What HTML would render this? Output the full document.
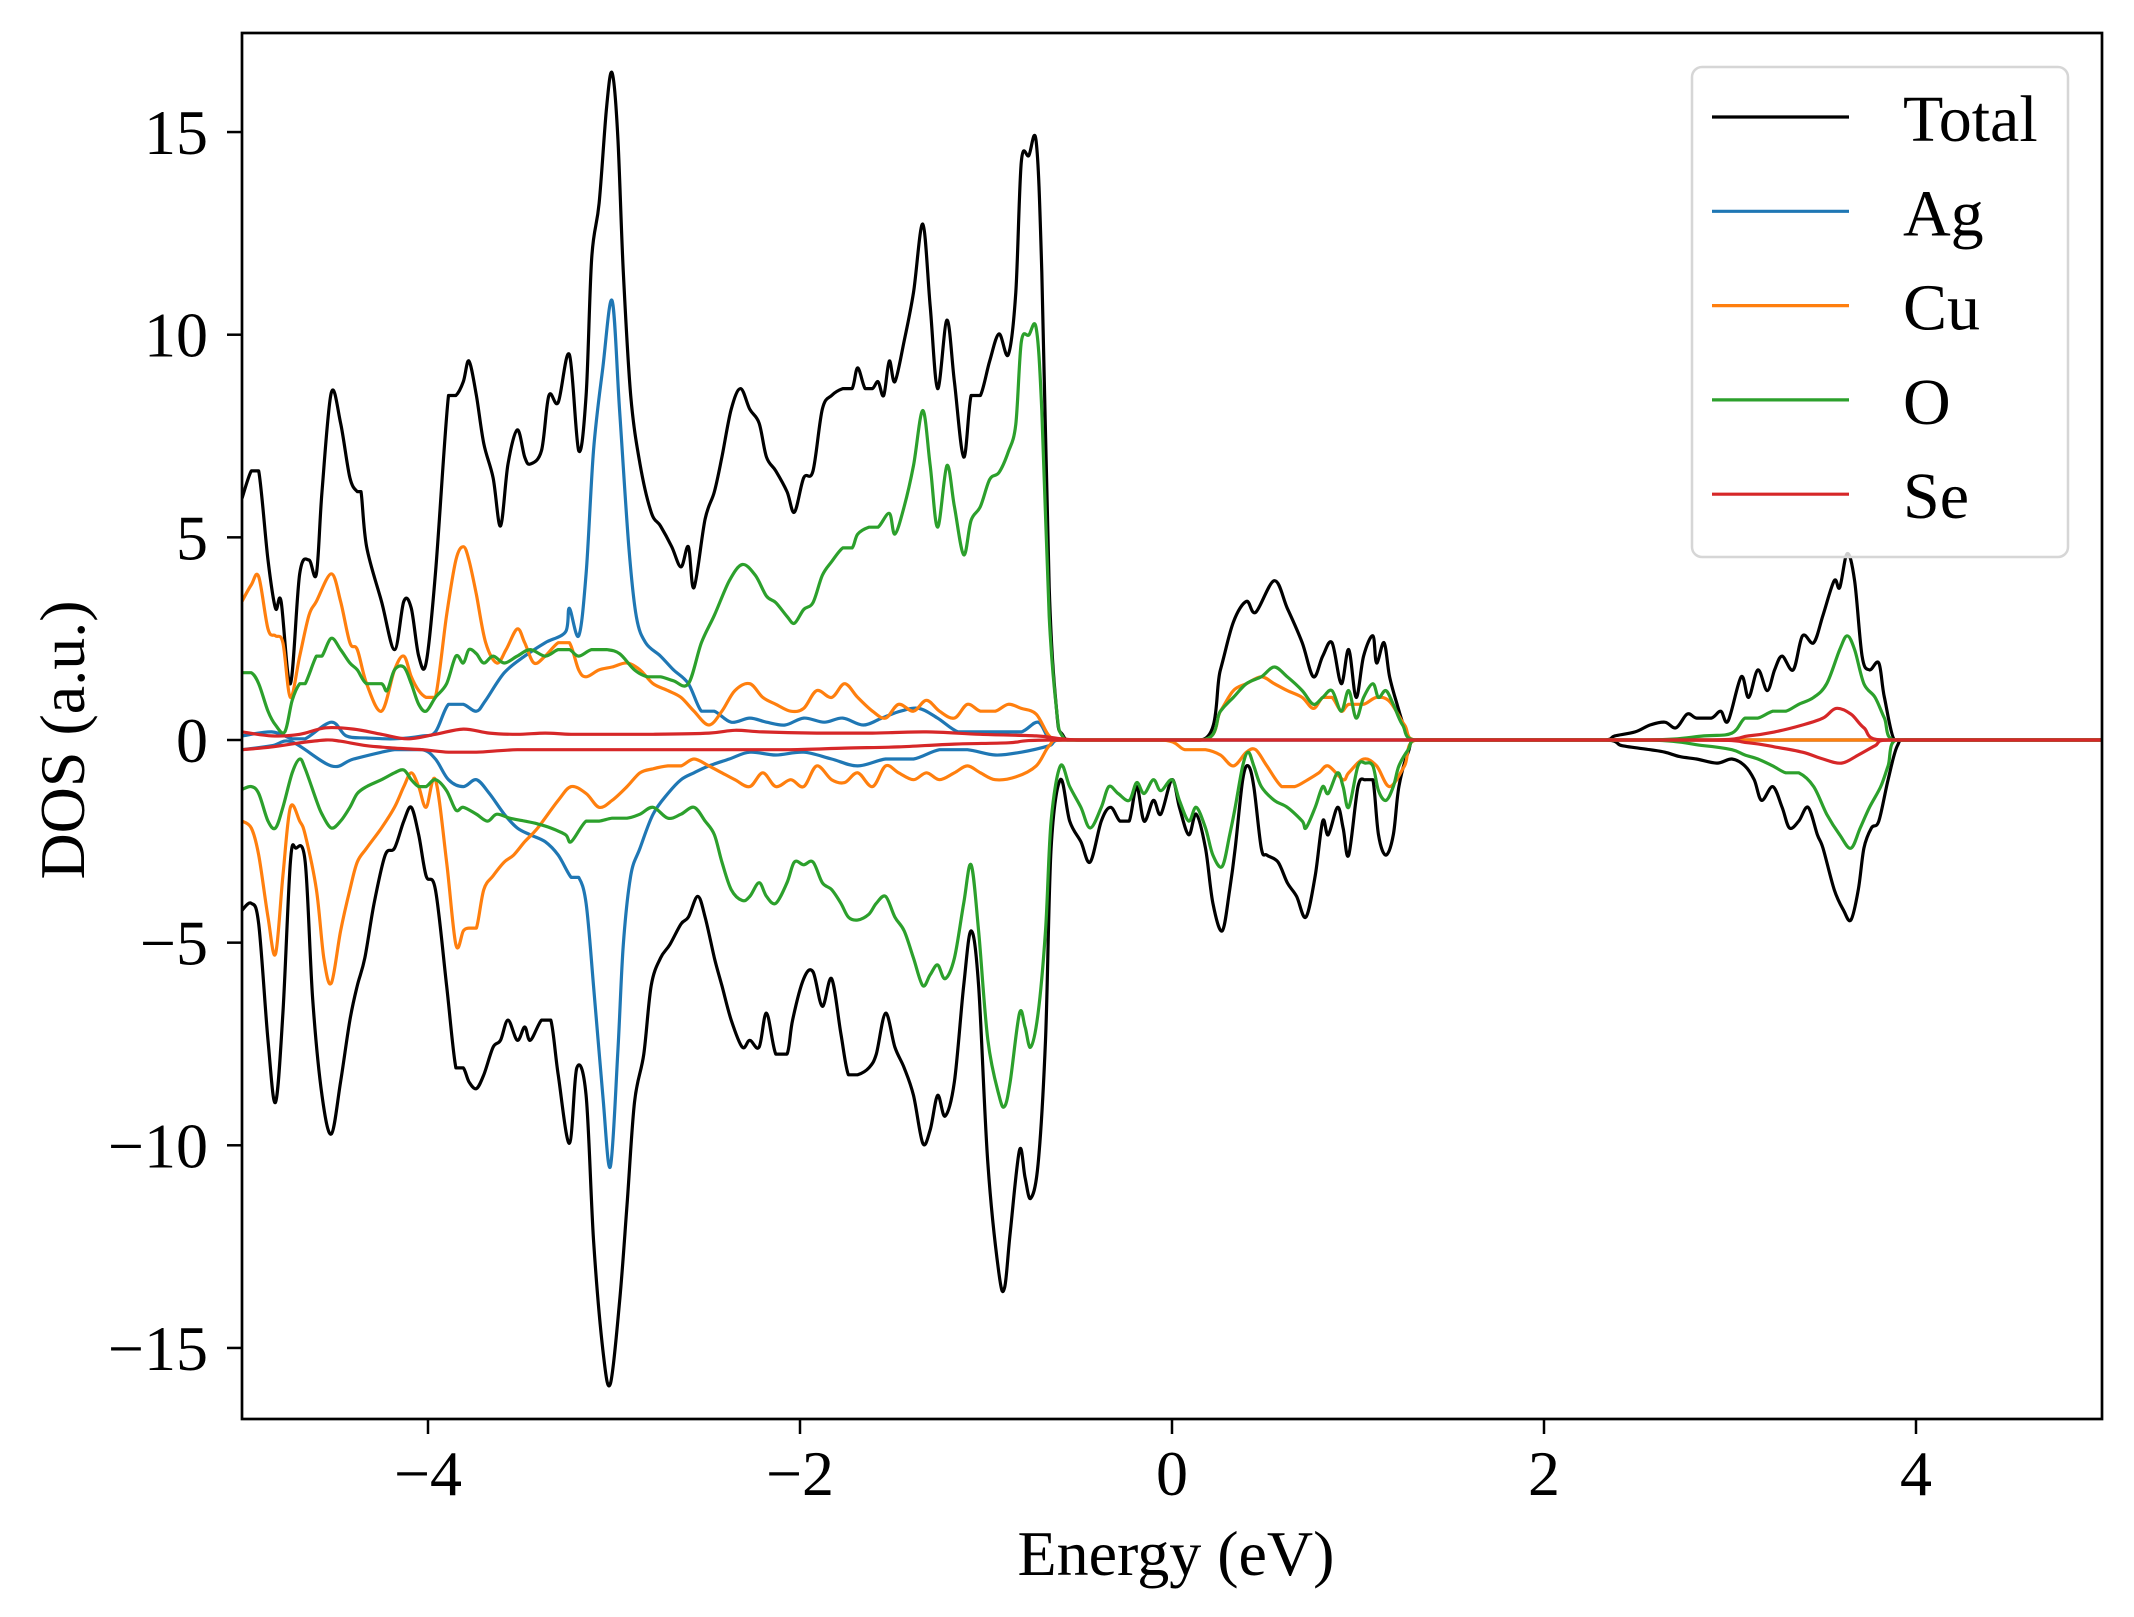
<!DOCTYPE html>
<html><head><meta charset="utf-8">
<style>
html,body{margin:0;padding:0;background:#fff;}
svg{display:block;font-family:"Liberation Serif","DejaVu Serif",serif;}
</style></head>
<body>
<svg id="chart" width="2134" height="1617" viewBox="0 0 2134 1617" xmlns="http://www.w3.org/2000/svg">
<rect x="0" y="0" width="2134" height="1617" fill="#fff"/>
<g id="series"></g>
<g id="axes"></g>
<g id="legend"></g>
</svg>
<script>
const xTicks = [-4, -2, 0, 2, 4];
const yTicks = [-15, -10, -5, 0, 5, 10, 15];
const seriesNames = ["Total", "Ag", "Cu", "O", "Se"];
const seriesColors = ["#000000", "#1f77b4", "#ff7f0e", "#2ca02c", "#d62728"];

const totalUpE = [-5.00,-4.95,-4.91,-4.86,-4.82,-4.79,-4.74,-4.69,-4.64,-4.60,-4.57,-4.52,-4.47,-4.42,-4.38,-4.36,-4.33,-4.25,-4.18,-4.13,-4.09,-4.05,-4.01,-3.96,-3.89,-3.85,-3.81,-3.78,-3.74,-3.70,-3.65,-3.61,-3.57,-3.52,-3.48,-3.45,-3.39,-3.35,-3.30,-3.24,-3.19,-3.15,-3.12,-3.08,-3.04,-3.01,-2.98,-2.95,-2.91,-2.86,-2.80,-2.75,-2.69,-2.64,-2.60,-2.57,-2.51,-2.46,-2.42,-2.37,-2.32,-2.27,-2.22,-2.18,-2.13,-2.07,-2.03,-1.98,-1.93,-1.88,-1.83,-1.77,-1.72,-1.69,-1.65,-1.61,-1.58,-1.55,-1.52,-1.49,-1.44,-1.39,-1.34,-1.30,-1.26,-1.21,-1.17,-1.12,-1.08,-1.03,-0.98,-0.93,-0.88,-0.84,-0.81,-0.77,-0.73,-0.70,-0.66,-0.62,-0.59,-0.51,0.15,0.26,0.33,0.40,0.45,0.55,0.62,0.70,0.76,0.81,0.86,0.91,0.95,0.99,1.03,1.08,1.10,1.14,1.17,1.21,1.26,1.32,2.31,2.38,2.49,2.57,2.65,2.71,2.77,2.82,2.90,2.95,2.99,3.06,3.10,3.15,3.20,3.24,3.28,3.34,3.39,3.45,3.50,3.56,3.59,3.63,3.67,3.71,3.75,3.80,3.83,3.89,3.96,5.00];
const totalUpV = [5.96,6.64,6.64,4.44,3.25,3.42,1.39,4.10,4.44,4.10,6.13,8.57,7.82,6.47,6.13,6.13,4.77,3.42,2.23,3.42,3.25,2.07,1.90,4.10,8.50,8.50,8.84,9.35,8.50,7.31,6.47,5.28,6.81,7.65,6.98,6.81,7.14,8.50,8.33,9.51,7.14,8.50,11.89,13.24,15.61,16.46,14.93,11.55,8.50,6.81,5.62,5.28,4.77,4.27,4.77,3.76,5.45,6.13,6.98,8.16,8.67,8.16,7.82,6.98,6.64,6.13,5.62,6.47,6.64,8.16,8.50,8.67,8.67,9.18,8.67,8.67,8.84,8.50,9.35,8.84,9.85,11.04,12.73,10.70,8.67,10.36,8.84,6.98,8.50,8.50,9.35,10.02,9.51,11.04,14.26,14.42,14.76,11.55,3.76,0.71,0.14,0,0,1.73,2.91,3.42,3.15,3.93,3.25,2.40,1.56,2.07,2.40,1.39,2.23,1.05,2.07,2.57,1.90,2.40,1.56,0.88,0.20,0,0,0.10,0.20,0.37,0.44,0.30,0.64,0.54,0.54,0.71,0.47,1.56,1.05,1.73,1.22,1.73,2.07,1.73,2.57,2.40,3.08,3.93,3.76,4.60,3.93,2.07,1.73,1.90,1.05,0,0,0];
const totalDnE = [-5.00,-4.95,-4.91,-4.86,-4.82,-4.78,-4.74,-4.71,-4.66,-4.62,-4.57,-4.52,-4.47,-4.42,-4.38,-4.34,-4.29,-4.23,-4.18,-4.13,-4.09,-4.05,-4.01,-3.96,-3.90,-3.85,-3.81,-3.78,-3.74,-3.70,-3.65,-3.61,-3.57,-3.52,-3.48,-3.45,-3.39,-3.34,-3.30,-3.24,-3.20,-3.15,-3.11,-3.06,-3.02,-2.97,-2.93,-2.89,-2.84,-2.80,-2.75,-2.70,-2.64,-2.60,-2.55,-2.51,-2.46,-2.42,-2.37,-2.31,-2.27,-2.22,-2.18,-2.13,-2.07,-2.04,-1.98,-1.93,-1.88,-1.83,-1.78,-1.74,-1.69,-1.63,-1.59,-1.54,-1.49,-1.44,-1.39,-1.34,-1.30,-1.26,-1.22,-1.17,-1.12,-1.08,-1.04,-0.99,-0.93,-0.90,-0.87,-0.82,-0.79,-0.76,-0.72,-0.68,-0.65,-0.60,-0.55,-0.49,-0.44,-0.38,-0.33,-0.28,-0.23,-0.19,-0.15,-0.10,-0.06,0.00,0.04,0.09,0.13,0.18,0.22,0.27,0.31,0.34,0.38,0.41,0.44,0.48,0.51,0.57,0.62,0.67,0.72,0.77,0.81,0.84,0.89,0.92,0.95,1.00,1.04,1.08,1.11,1.15,1.19,1.22,1.27,1.32,2.31,2.42,2.57,2.65,2.73,2.82,2.93,3.01,3.08,3.13,3.17,3.23,3.28,3.32,3.37,3.42,3.47,3.50,3.56,3.61,3.65,3.69,3.72,3.76,3.80,3.85,3.90,3.96,5.00];
const totalDnV = [-4.20,-4.03,-4.54,-7.41,-8.94,-6.74,-3.01,-2.67,-3.01,-6.40,-8.77,-9.72,-8.43,-6.91,-6.06,-5.38,-4.03,-2.84,-2.67,-2.00,-1.66,-2.34,-3.35,-3.69,-6.06,-8.09,-8.09,-8.43,-8.60,-8.26,-7.58,-7.41,-6.91,-7.41,-7.08,-7.41,-6.91,-6.91,-8.26,-9.95,-8.09,-8.77,-12.33,-15.04,-15.89,-13.85,-11.48,-8.94,-7.75,-6.06,-5.38,-5.05,-4.54,-4.37,-3.86,-4.37,-5.38,-6.06,-6.91,-7.58,-7.41,-7.58,-6.74,-7.75,-7.75,-6.91,-5.89,-5.72,-6.57,-5.89,-7.25,-8.26,-8.26,-8.09,-7.75,-6.74,-7.58,-8.09,-8.77,-9.95,-9.62,-8.77,-9.28,-8.43,-6.06,-4.71,-6.06,-10.46,-13.17,-13.51,-12.16,-10.12,-10.80,-11.31,-10.46,-7.41,-2.67,-0.98,-2.00,-2.51,-3.01,-2.00,-1.66,-2.00,-2.00,-1.15,-2.00,-1.49,-1.83,-0.98,-1.66,-2.34,-1.83,-2.67,-4.03,-4.71,-3.69,-2.67,-0.98,-0.64,-1.15,-2.67,-2.84,-3.01,-3.52,-3.86,-4.37,-3.35,-2.00,-2.34,-1.66,-2.17,-2.84,-1.15,-0.98,-0.98,-2.34,-2.84,-2.34,-1.15,-0.30,0,0,-0.14,-0.24,-0.30,-0.41,-0.47,-0.57,-0.47,-0.64,-0.98,-1.49,-1.15,-1.66,-2.17,-2.00,-1.66,-2.34,-2.67,-3.69,-4.20,-4.44,-3.69,-2.67,-2.17,-2.00,-0.98,-0.14,0,0];

const agUpE = [-5.00,-4.84,-4.73,-4.66,-4.52,-4.44,-4.33,-4.18,-4.03,-3.96,-3.89,-3.81,-3.74,-3.69,-3.59,-3.48,-3.37,-3.26,-3.24,-3.19,-3.15,-3.11,-3.06,-3.01,-2.97,-2.92,-2.88,-2.83,-2.75,-2.68,-2.60,-2.53,-2.46,-2.37,-2.27,-2.18,-2.08,-1.98,-1.87,-1.77,-1.66,-1.56,-1.46,-1.36,-1.26,-1.15,-1.04,-0.93,-0.81,-0.72,-0.66,-0.59,5.00];
const agUpV = [0.10,0.20,0.03,0.03,0.44,0.10,0.05,0.03,0.10,0.20,0.88,0.88,0.71,0.98,1.66,2.07,2.40,2.67,3.25,2.57,4.10,7.14,9.18,10.84,8.13,4.74,3.05,2.40,2.07,1.73,1.39,0.71,0.71,0.44,0.54,0.44,0.37,0.54,0.44,0.54,0.37,0.54,0.71,0.78,0.54,0.20,0.20,0.20,0.20,0.44,0.03,0,0];
const agDnE = [-5.00,-4.84,-4.73,-4.52,-4.40,-4.18,-4.03,-3.96,-3.89,-3.81,-3.74,-3.67,-3.59,-3.52,-3.45,-3.37,-3.30,-3.23,-3.19,-3.15,-3.11,-3.06,-3.02,-2.98,-2.95,-2.91,-2.86,-2.79,-2.71,-2.64,-2.57,-2.49,-2.38,-2.27,-2.13,-1.98,-1.83,-1.69,-1.54,-1.39,-1.25,-1.10,-0.95,-0.81,-0.66,-0.59,5.00];
const agDnV = [-0.24,-0.14,-0.05,-0.64,-0.47,-0.24,-0.24,-0.47,-0.98,-1.15,-0.98,-1.32,-1.83,-2.17,-2.34,-2.51,-2.84,-3.39,-3.39,-4.03,-6.06,-8.77,-10.53,-7.75,-5.05,-3.35,-2.67,-1.83,-1.32,-0.98,-0.81,-0.64,-0.47,-0.30,-0.37,-0.30,-0.47,-0.64,-0.47,-0.47,-0.24,-0.24,-0.37,-0.30,-0.14,0,0];

const cuUpE = [-5.00,-4.95,-4.91,-4.86,-4.82,-4.78,-4.74,-4.69,-4.64,-4.60,-4.52,-4.47,-4.42,-4.38,-4.33,-4.25,-4.18,-4.13,-4.09,-4.05,-4.01,-3.96,-3.90,-3.85,-3.81,-3.78,-3.74,-3.69,-3.63,-3.58,-3.52,-3.48,-3.43,-3.37,-3.30,-3.24,-3.19,-3.15,-3.08,-3.01,-2.93,-2.86,-2.79,-2.71,-2.64,-2.57,-2.49,-2.42,-2.35,-2.27,-2.20,-2.13,-2.05,-1.98,-1.91,-1.83,-1.76,-1.69,-1.61,-1.54,-1.47,-1.39,-1.32,-1.25,-1.17,-1.10,-1.03,-0.95,-0.88,-0.81,-0.73,-0.66,-0.59,0.15,0.26,0.33,0.40,0.48,0.55,0.62,0.70,0.76,0.81,0.86,0.91,0.95,1.03,1.10,1.17,1.25,1.32,5.00];
const cuUpV = [3.42,3.83,4.03,2.74,2.57,2.40,1.05,2.07,3.08,3.42,4.10,3.42,2.40,2.23,1.39,0.71,1.73,2.07,1.56,1.22,1.05,1.05,3.08,4.44,4.77,4.44,3.59,2.40,1.90,2.23,2.74,2.40,1.90,2.07,2.40,2.40,1.73,1.56,1.73,1.80,1.90,1.73,1.39,1.22,1.05,0.71,0.37,0.71,1.22,1.39,1.05,0.88,0.71,0.78,1.22,1.05,1.39,1.05,0.71,0.54,0.88,0.71,0.98,0.71,0.54,0.88,0.71,0.71,0.88,0.78,0.64,0.10,0,0,0.71,1.22,1.39,1.56,1.39,1.22,1.05,0.78,1.05,1.05,0.71,0.88,0.88,1.05,0.95,0.37,0,0];
const cuDnE = [-5.00,-4.95,-4.91,-4.86,-4.82,-4.78,-4.74,-4.69,-4.66,-4.60,-4.56,-4.52,-4.47,-4.42,-4.38,-4.33,-4.25,-4.18,-4.13,-4.09,-4.05,-4.01,-3.96,-3.90,-3.85,-3.81,-3.78,-3.74,-3.70,-3.65,-3.59,-3.54,-3.48,-3.41,-3.30,-3.23,-3.15,-3.08,-3.01,-2.93,-2.86,-2.79,-2.71,-2.64,-2.57,-2.49,-2.42,-2.35,-2.27,-2.20,-2.13,-2.05,-1.98,-1.91,-1.83,-1.76,-1.69,-1.61,-1.54,-1.47,-1.39,-1.32,-1.25,-1.17,-1.10,-1.03,-0.95,-0.84,-0.73,-0.66,-0.59,-0.07,0.07,0.18,0.26,0.33,0.40,0.45,0.51,0.59,0.66,0.73,0.79,0.84,0.92,0.95,1.03,1.10,1.17,1.25,1.32,5.00];
const cuDnV = [-2.00,-2.17,-2.84,-4.37,-5.28,-3.35,-1.66,-2.00,-2.34,-3.69,-5.38,-6.00,-4.71,-3.69,-3.01,-2.67,-2.17,-1.66,-1.15,-0.81,-1.15,-1.66,-0.98,-3.01,-5.05,-4.71,-4.64,-4.64,-3.69,-3.35,-3.01,-2.84,-2.51,-2.17,-1.49,-1.15,-1.32,-1.66,-1.49,-1.15,-0.81,-0.71,-0.64,-0.64,-0.47,-0.64,-0.81,-0.98,-1.15,-0.81,-1.15,-0.98,-1.15,-0.64,-0.98,-1.05,-0.81,-1.15,-0.64,-0.81,-0.98,-0.81,-0.98,-0.81,-0.64,-0.81,-0.98,-0.91,-0.64,-0.14,0,0,-0.24,-0.24,-0.37,-0.64,-0.30,-0.24,-0.64,-1.15,-1.15,-0.98,-0.81,-0.64,-0.98,-0.81,-0.47,-0.64,-1.15,-0.64,0,0];

const oUpE = [-5.00,-4.95,-4.91,-4.86,-4.82,-4.77,-4.73,-4.69,-4.66,-4.60,-4.57,-4.52,-4.47,-4.42,-4.38,-4.33,-4.25,-4.22,-4.18,-4.13,-4.09,-4.05,-4.01,-3.96,-3.90,-3.85,-3.81,-3.78,-3.74,-3.70,-3.65,-3.59,-3.52,-3.45,-3.37,-3.30,-3.24,-3.19,-3.12,-3.04,-2.97,-2.89,-2.82,-2.75,-2.68,-2.60,-2.53,-2.46,-2.38,-2.31,-2.24,-2.18,-2.13,-2.07,-2.03,-1.98,-1.93,-1.88,-1.83,-1.77,-1.72,-1.69,-1.63,-1.58,-1.52,-1.49,-1.44,-1.39,-1.34,-1.30,-1.26,-1.21,-1.17,-1.12,-1.08,-1.03,-0.98,-0.93,-0.88,-0.84,-0.81,-0.77,-0.73,-0.70,-0.66,-0.62,-0.59,-0.51,0.15,0.26,0.33,0.40,0.48,0.55,0.62,0.70,0.76,0.81,0.86,0.91,0.95,0.99,1.03,1.08,1.11,1.15,1.19,1.24,1.32,2.49,2.86,3.01,3.08,3.15,3.23,3.30,3.37,3.45,3.52,3.59,3.63,3.67,3.72,3.78,3.83,3.89,5.00];
const oUpV = [1.66,1.66,1.39,0.71,0.37,0.20,0.98,1.39,1.39,2.07,2.07,2.51,2.23,1.90,1.73,1.39,1.39,1.22,1.73,1.80,1.39,0.88,0.71,1.05,1.39,2.07,1.90,2.23,2.13,1.90,2.07,1.90,2.07,2.23,2.07,2.23,2.23,2.07,2.23,2.23,2.13,1.73,1.56,1.56,1.46,1.39,2.40,3.08,3.93,4.33,4.06,3.55,3.39,3.05,2.88,3.22,3.39,4.06,4.40,4.74,4.74,5.08,5.25,5.25,5.59,5.08,5.76,6.77,8.13,6.77,5.25,6.77,5.76,4.57,5.42,5.76,6.43,6.60,7.11,7.79,9.82,9.99,10.16,8.13,3.05,0.71,0.10,0,0,0.71,1.05,1.39,1.56,1.80,1.56,1.22,0.88,1.05,1.22,0.71,1.22,0.54,1.05,1.39,1.05,1.22,0.88,0.37,0,0,0.10,0.17,0.54,0.54,0.71,0.71,0.88,1.05,1.39,2.23,2.57,2.23,1.39,1.05,0.54,0,0];
const oDnE = [-5.00,-4.95,-4.91,-4.86,-4.82,-4.78,-4.73,-4.69,-4.66,-4.60,-4.57,-4.52,-4.47,-4.42,-4.38,-4.33,-4.25,-4.18,-4.13,-4.09,-4.05,-4.01,-3.96,-3.90,-3.85,-3.81,-3.74,-3.68,-3.63,-3.56,-3.48,-3.41,-3.34,-3.26,-3.23,-3.15,-3.08,-3.01,-2.93,-2.86,-2.79,-2.71,-2.64,-2.57,-2.51,-2.46,-2.42,-2.37,-2.31,-2.27,-2.22,-2.18,-2.13,-2.07,-2.03,-1.98,-1.93,-1.88,-1.83,-1.78,-1.74,-1.69,-1.63,-1.59,-1.54,-1.49,-1.44,-1.39,-1.34,-1.30,-1.26,-1.22,-1.17,-1.12,-1.08,-1.04,-0.99,-0.93,-0.90,-0.87,-0.82,-0.79,-0.76,-0.72,-0.68,-0.65,-0.60,-0.55,-0.49,-0.44,-0.38,-0.34,-0.29,-0.23,-0.19,-0.15,-0.10,-0.06,0.00,0.04,0.09,0.13,0.18,0.22,0.27,0.31,0.34,0.38,0.41,0.44,0.48,0.55,0.62,0.70,0.72,0.77,0.81,0.84,0.89,0.92,0.95,1.00,1.04,1.08,1.11,1.15,1.19,1.22,1.27,1.32,2.49,2.86,3.01,3.08,3.15,3.23,3.30,3.37,3.45,3.52,3.59,3.65,3.70,3.75,3.81,3.85,3.90,5.00];
const oDnV = [-1.22,-1.15,-1.32,-2.00,-2.17,-1.66,-0.81,-0.47,-0.71,-1.49,-1.83,-2.17,-2.00,-1.66,-1.32,-1.15,-0.98,-0.81,-0.74,-0.98,-1.15,-1.15,-0.98,-1.25,-1.73,-1.66,-1.83,-2.00,-1.83,-1.93,-2.00,-2.07,-2.17,-2.34,-2.51,-2.00,-2.00,-1.93,-1.93,-1.83,-1.66,-1.93,-1.83,-1.66,-2.00,-2.34,-3.01,-3.69,-3.96,-3.86,-3.52,-3.86,-4.03,-3.52,-3.01,-3.08,-3.01,-3.52,-3.69,-4.03,-4.37,-4.44,-4.30,-4.03,-3.86,-4.37,-4.71,-5.38,-6.06,-5.79,-5.55,-5.89,-5.38,-4.03,-3.08,-4.71,-7.41,-8.77,-9.04,-8.43,-6.74,-7.08,-7.58,-6.74,-4.71,-2.00,-0.64,-1.15,-1.66,-2.17,-1.66,-1.15,-1.32,-1.49,-1.05,-1.32,-0.98,-1.25,-0.98,-1.49,-2.00,-1.66,-2.17,-2.84,-3.12,-2.34,-1.66,-0.64,-0.30,-0.64,-1.15,-1.49,-1.66,-2.00,-2.17,-1.66,-1.15,-1.32,-0.81,-1.15,-1.66,-0.64,-0.57,-0.64,-1.25,-1.49,-1.15,-0.64,-0.24,0,0,-0.14,-0.24,-0.37,-0.47,-0.64,-0.81,-0.81,-1.15,-1.83,-2.34,-2.67,-2.17,-1.66,-1.15,-0.64,0,0];

const seUpE = [-5.00,-4.84,-4.69,-4.55,-4.40,-4.25,-4.11,-3.96,-3.81,-3.67,-3.52,-3.37,-3.23,-3.01,-2.79,-2.49,-2.35,-2.20,-1.91,-1.61,-1.32,-1.03,-0.73,-0.59,-0.44,2.82,3.10,3.24,3.39,3.50,3.57,3.65,3.72,3.83,5.00];
const seUpV = [0.20,0.10,0.14,0.30,0.27,0.14,0.03,0.14,0.27,0.17,0.14,0.17,0.14,0.14,0.14,0.17,0.24,0.20,0.17,0.17,0.20,0.14,0.10,0.03,0,0,0.10,0.20,0.37,0.54,0.78,0.64,0.30,0,0];
const seDnE = [-5.00,-4.84,-4.69,-4.55,-4.47,-4.33,-4.18,-4.03,-3.89,-3.74,-3.52,-3.23,-2.93,-2.64,-2.35,-2.05,-1.76,-1.47,-1.17,-0.88,-0.59,2.82,3.10,3.24,3.39,3.50,3.60,3.69,3.78,3.85,5.00];
const seDnV = [-0.24,-0.17,-0.07,0.00,-0.03,-0.14,-0.20,-0.24,-0.30,-0.30,-0.24,-0.24,-0.24,-0.24,-0.24,-0.24,-0.20,-0.17,-0.10,-0.07,0,0,-0.07,-0.17,-0.30,-0.47,-0.57,-0.37,-0.14,0,0];

const NS = "http://www.w3.org/2000/svg";
const PL = 242, PR = 2102, PT = 33, PB = 1419;
const XMIN = -5, XMAX = 5;
const Y0PX = 740, YUNIT = 40.53;
function xs(e){ return PL + (e - XMIN) / (XMAX - XMIN) * (PR - PL); }
function ys(v){ return Y0PX - v * YUNIT; }
function mk(tag, attrs, parent){
  const el = document.createElementNS(NS, tag);
  for (const k in attrs) el.setAttribute(k, attrs[k]);
  parent.appendChild(el);
  return el;
}
const seriesG = document.getElementById('series');
const clip = mk('clipPath', {id:'plotclip'}, mk('defs', {}, document.getElementById('chart')));
mk('rect', {x:PL, y:PT, width:PR-PL, height:PB-PT}, clip);
seriesG.setAttribute('clip-path', 'url(#plotclip)');

const seriesData = [
  [totalUpE,totalUpV,totalDnE,totalDnV],
  [agUpE,agUpV,agDnE,agDnV],
  [cuUpE,cuUpV,cuDnE,cuDnV],
  [oUpE,oUpV,oDnE,oDnV],
  [seUpE,seUpV,seDnE,seDnV]
];
function pathD(E, V){
  const P = E.map((e, i) => [xs(e), ys(V[i])]);
  let d = "M" + P[0][0].toFixed(1) + "," + P[0][1].toFixed(1);
  for (let i = 0; i < P.length - 1; i++) {
    const p0 = P[Math.max(0, i - 1)], p1 = P[i], p2 = P[i + 1], p3 = P[Math.min(P.length - 1, i + 2)];
    let c1x = p1[0] + (p2[0] - p0[0]) / 6, c1y = p1[1] + (p2[1] - p0[1]) / 6;
    let c2x = p2[0] - (p3[0] - p1[0]) / 6, c2y = p2[1] - (p3[1] - p1[1]) / 6;
    c1x = Math.min(Math.max(c1x, p1[0]), p2[0]);
    c2x = Math.min(Math.max(c2x, p1[0]), p2[0]);
    if (p1[1] === p2[1]) { c1y = p1[1]; c2y = p2[1]; }
    if (p2[1] === p3[1] && p2[1] === Y0PX) c2y = p2[1];
    if (p0[1] === p1[1] && p1[1] === Y0PX) c1y = p1[1];
    d += "C" + c1x.toFixed(1) + "," + c1y.toFixed(1) + " " + c2x.toFixed(1) + "," + c2y.toFixed(1) + " " + p2[0].toFixed(1) + "," + p2[1].toFixed(1);
  }
  return d;
}
seriesData.forEach((s, i) => {
  const key = seriesNames[i].toLowerCase();
  const up = mk('path', {d: pathD(s[0], s[1]), fill:'none', stroke: seriesColors[i], 'stroke-width': 3.2, 'stroke-linejoin':'round'}, seriesG);
  
  
  const dn = mk('path', {d: pathD(s[2], s[3]), fill:'none', stroke: seriesColors[i], 'stroke-width': 3.2, 'stroke-linejoin':'round'}, seriesG);
  
  
});

const axesG = document.getElementById('axes');
const frame = mk('rect', {x:PL, y:PT, width:PR-PL, height:PB-PT, fill:'none', stroke:'#000', 'stroke-width':2.7}, axesG);


function lbl(n){ return n < 0 ? "\u2212" + Math.abs(n) : String(n); }
xTicks.forEach(t => {
  const x = xs(t);
  const tk = mk('line', {x1:x, y1:PB, x2:x, y2:PB+15, stroke:'#000', 'stroke-width':2.5}, axesG);
  
  
  const tx = mk('text', {x:x, y:1495, 'font-size':64, 'text-anchor':'middle', fill:'#000'}, axesG);
  tx.textContent = lbl(t);
  
  
});
yTicks.forEach(t => {
  const y = ys(t);
  const tk = mk('line', {x1:PL-15, y1:y, x2:PL, y2:y, stroke:'#000', 'stroke-width':2.5}, axesG);
  
  
  const tx = mk('text', {x:208, y:y+22, 'font-size':64, 'text-anchor':'end', fill:'#000'}, axesG);
  tx.textContent = lbl(t);
  
  
});
const xt = mk('text', {x:1176, y:1575, 'font-size':64, 'text-anchor':'middle', fill:'#000'}, axesG);
xt.textContent = "Energy (eV)";


const yt = mk('text', {x:0, y:0, 'font-size':64, 'text-anchor':'middle', fill:'#000', transform:'translate(84,740) rotate(-90)'}, axesG);
yt.textContent = "DOS (a.u.)";



const legG = document.getElementById('legend');
const box = mk('rect', {x:1692, y:67, width:376, height:490, rx:10, fill:'#fff', 'fill-opacity':0.8, stroke:'#d6d6d6', 'stroke-width':2.5}, legG);


seriesNames.forEach((n, i) => {
  const y = 117 + i * 94.3;
  const g = mk('g', {}, legG);
  
  
  mk('line', {x1:1712, y1:y, x2:1849, y2:y, stroke:seriesColors[i], 'stroke-width':3.2}, g);
  const t = mk('text', {x:1903, y:y+24, 'font-size':66, fill:'#000'}, g);
  t.textContent = n;
});
</script>
</body></html>
